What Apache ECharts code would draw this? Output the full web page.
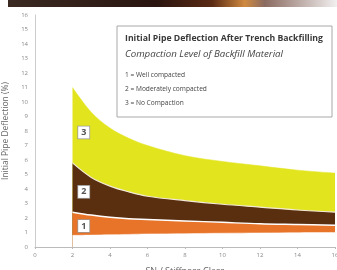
<!DOCTYPE html>
<html><head><meta charset="utf-8">
<script src="https://cdn.jsdelivr.net/npm/echarts@6/dist/echarts.min.js"></script>
<style>html,body{margin:0;padding:0;background:#fff}#c{width:337px;height:270px}</style>
</head><body><div id="c"></div>
<script>
var stiffness = [2, 3, 4, 5, 6, 8, 10, 12, 14, 16];
var zone1Lower = [0.8, 0.82, 0.85, 0.87, 0.9, 0.92, 0.95, 0.97, 0.99, 1.0];
var zone1Upper = [2.4, 2.2, 2.05, 1.95, 1.9, 1.8, 1.7, 1.6, 1.55, 1.5];
var zone2Upper = [5.8, 4.8, 4.2, 3.8, 3.5, 3.2, 2.95, 2.75, 2.55, 2.4];
var zone3Upper = [11.0, 9.3, 8.2, 7.5, 7.0, 6.3, 5.9, 5.6, 5.3, 5.1];
var xTicks = [0, 2, 4, 6, 8, 10, 12, 14, 16];
var zoneLabels = [{name:'1', x:2.6, y:1.45}, {name:'2', x:2.6, y:3.8}, {name:'3', x:2.6, y:7.9}];
var legendLines = ['Initial Pipe Deflection After Trench Backfilling', 'Compaction Level of Backfill Material', '1 = Well compacted', '2 = Moderately compacted', '3 = No Compaction'];

function pairs(arr){ return stiffness.map(function(x,i){ return [x, arr[i]]; }); }

var chart = echarts.init(document.getElementById('c'));
var FONT = 'Open Sans';
var lblStyle = function(){ return {
  show:true, position:'inside', formatter:'{b}', fontFamily:FONT, fontSize:9, fontWeight:'bold', color:'#555',
  backgroundColor:'#fff', borderColor:'#999', borderWidth:0.8, padding:[2,3,1,3]
};};
function mp(i){ var z = zoneLabels[i]; return {symbol:'rect', symbolSize:0.1, silent:true,
  data:[{name:z.name, coord:[z.x, z.y], label:lblStyle()}]}; }

function band(arr, color, lineColor, lineWidth, z, markIdx){
  var s = {type:'line', data:pairs(arr), smooth:0.35, symbol:'none', z:z,
    lineStyle:{color:lineColor, width:lineWidth}, areaStyle:{color:color, opacity:1}};
  if (markIdx !== undefined) s.markPoint = mp(markIdx);
  return s;
}

chart.setOption({
  animation:false,
  backgroundColor:'#fff',
  grid:{left:35, right:2, top:15, bottom:23, containLabel:false, outerBoundsMode:'none'},
  xAxis:{type:'value', min:0, max:16, interval:2, z:20,
    name:'SN / Stiffness Class', nameLocation:'middle', nameGap:20,
    nameTextStyle:{fontFamily:FONT, fontSize:9, color:'#666'},
    axisLine:{lineStyle:{color:'#bbb', width:1}},
    axisTick:{show:true, length:2, lineStyle:{color:'#bbb'}},
    axisLabel:{fontFamily:FONT, fontSize:6, color:'#888', margin:5},
    splitLine:{show:false}},
  yAxis:{type:'value', min:0, max:16, interval:1,
    name:'Initial Pipe Deflection (%)', nameLocation:'middle', nameGap:21,
    nameTextStyle:{fontFamily:FONT, fontSize:8.5, color:'#666'},
    axisLine:{show:true, lineStyle:{color:'#ccc', width:1}},
    axisTick:{show:false},
    axisLabel:{fontFamily:FONT, fontSize:6, color:'#888', margin:7},
    splitLine:{show:false}},
  series:[
    band(zone3Upper, '#e2e41e', '#e2e41e', 0.5, 2, 2),
    band(zone2Upper, '#5a2f10', '#f3e9d8', 1.2, 3, 1),
    band(zone1Upper, '#e8742a', '#ffffff', 1.5, 4, 0),
    band(zone1Lower, '#ffffff', '#ffffff', 0.5, 5)
  ],
  graphic:[
    {type:'rect', left:8, top:0, shape:{width:329, height:7}, z:10,
     style:{fill:new echarts.graphic.LinearGradient(0,0,1,0,[
       {offset:0, color:'#3a2a22'},{offset:0.45, color:'#2a1510'},{offset:0.62, color:'#5a2a14'},
       {offset:0.72, color:'#d08a40'},{offset:0.78, color:'#8a6a60'},{offset:1, color:'#f2f0f0'}])}},
    {type:'rect', shape:{x:117, y:26, width:215, height:91}, z:10,
     style:{fill:'#fff', stroke:'#a8a8a8', lineWidth:1}},
    {type:'text', x:125, y:34, z:11, style:{text:legendLines[0], fontFamily:FONT, fontSize:8.7, fontWeight:'bold', fill:'#3a3a3a'}},
    {type:'text', x:125, y:49, z:11, style:{text:legendLines[1], fontFamily:FONT, fontSize:9.7, fontStyle:'italic', fill:'#444'}},
    {type:'text', x:125, y:72, z:11, style:{text:legendLines[2], fontFamily:FONT, fontSize:6.6, fill:'#444'}},
    {type:'text', x:125, y:86, z:11, style:{text:legendLines[3], fontFamily:FONT, fontSize:6.6, fill:'#444'}},
    {type:'text', x:125, y:100, z:11, style:{text:legendLines[4], fontFamily:FONT, fontSize:6.6, fill:'#444'}}
  ]
});
</script></body></html>
